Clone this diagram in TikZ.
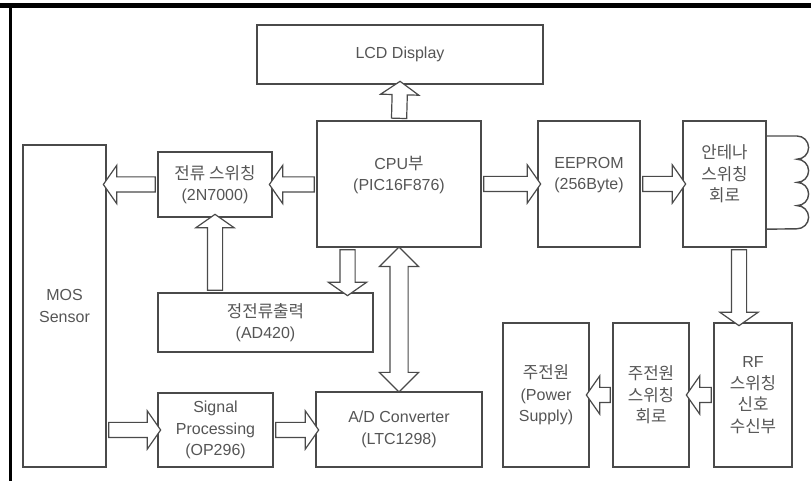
\documentclass[tikz,border=0pt]{standalone}
\usepackage{fontspec}
\setmainfont{Liberation Sans}
\newfontfamily\krfont{Noto Sans CJK KR}[Scale=1.05]
\newcommand\kr[1]{{\krfont #1}}
\usepackage{tikz}
\usetikzlibrary{calc, positioning, shapes.arrows}
\definecolor{boxline}{HTML}{4A4A4A}
\definecolor{boxtext}{HTML}{555555}

% hollow block arrow from #2 to #3
\newcommand\fatarrow[3][sarrow]{%
  \path let \p1=#2, \p2=#3,
    \n1={veclen(\x2-\x1,\y2-\y1)}, \n2={atan2(\y2-\y1,\x2-\x1)}
  in node[#1, minimum height=\n1, rotate=\n2] at ($(\p1)!0.5!(\p2)$) {};}

\begin{document}
\begin{tikzpicture}[x=1pt, y=1pt,
  box/.style={rectangle, draw=boxline, line width=1.4pt, align=center,
              inner sep=0pt, outer sep=0pt,
              font=\fontsize{16}{21.5}\selectfont\color{boxtext}},
  sarrow/.style={single arrow, draw=boxline, fill=white, line width=1.2pt,
                 inner xsep=0pt, inner ysep=7pt, outer sep=0pt,
                 single arrow head extend=11.5pt, single arrow tip angle=110},
  darrow/.style={double arrow, draw=boxline, fill=white, line width=1.2pt,
                 inner xsep=0pt, inner ysep=8.5pt, outer sep=0pt,
                 double arrow head extend=10.5pt, double arrow tip angle=90},
  wire/.style={draw=boxline, line width=1.4pt}
]
  \useasboundingbox (0,0) rectangle (811,481);
  \draw[line width=4.5pt] (0,475.5) -- (811,475.5);
  \draw[line width=3pt] (10,477) -- (10,0);

  \node[box, minimum width=286, minimum height=59] (lcd) at (400,426.5) {LCD Display};
  \node[box, minimum width=164, minimum height=126] (cpu) at (399,297) {CPU\kr{부}\\(PIC16F876)\\\mbox{}};
  \node[box, minimum width=102, minimum height=126] (eeprom) at (589,297) {EEPROM\\(256Byte)\\\mbox{}};
  \node[box, minimum width=83, minimum height=126] (ant) at (724.5,297) {\kr{안테나}\\\kr{스위칭}\\\kr{회로}\\\mbox{}};
  \node[box, minimum width=83, minimum height=322] (mos) at (64.5,175) {MOS\\Sensor};
  \node[box, minimum width=114, minimum height=65] (cur) at (215,296.5) {\kr{전류 스위칭}\\(2N7000)};
  \node[box, minimum width=215, minimum height=59] (ad420) at (265.5,158.5) {\kr{정전류출력}\\(AD420)};
  \node[box, minimum width=115, minimum height=74] (sig) at (215.5,51) {Signal\\Processing\\(OP296)};
  \node[box, minimum width=166, minimum height=75] (adc) at (399,51.5) {A/D Converter\\(LTC1298)};
  \node[box, minimum width=86, minimum height=144] (psu) at (546,86) {\kr{주전원}\\(Power\\Supply)};
  \node[box, minimum width=76, minimum height=144] (psw) at (651,86) {\kr{주전원}\\\kr{스위칭}\\\kr{회로}};
  \node[box, minimum width=78, minimum height=144] (rf) at (753,86) {RF\\\kr{스위칭}\\\kr{신호}\\\kr{수신부}};

  % antenna coil
  \coordinate (coiltop) at ($(ant.north east)+(0,-15)$);
  \coordinate (coilbot) at ($(ant.south east)+(0,17.8)$);
  \draw[wire] (coiltop) -- ++(31,0)
    arc[start angle=90, end angle=-90, radius=11.6]
    arc[start angle=90, end angle=-90, radius=11.6]
    arc[start angle=90, end angle=-90, radius=11.6]
    arc[start angle=90, end angle=-90, radius=11.6] -- (coilbot);

  \coordinate (cpuout) at ($(cpu.south west)+(30.5,0)$);
  \coordinate (rfin) at ($(rf.north west)+(25,0)$);

  \fatarrow{(cpu.north)}{(lcd.south)}
  \fatarrow{(cpu.west |- cur.east)}{(cur.east)}
  \fatarrow{(cur.west)}{(mos.east |- cur.west)}
  \fatarrow{(ad420.north -| cur.south)}{(cur.south)}
  \fatarrow{(cpuout)}{(cpuout |- ad420.north)}
  \fatarrow[darrow]{(cpu.south)}{(adc.north)}
  \fatarrow{(mos.east |- sig.west)}{(sig.west)}
  \fatarrow{(sig.east)}{(adc.west |- sig.east)}
  \fatarrow{(cpu.east)}{(eeprom.west)}
  \fatarrow{(eeprom.east)}{(ant.west)}
  \fatarrow{(rfin |- ant.south)}{(rfin)}
  \fatarrow{(rf.west)}{(psw.east)}
  \fatarrow{(psw.west)}{(psu.east)}
\end{tikzpicture}
\end{document}
